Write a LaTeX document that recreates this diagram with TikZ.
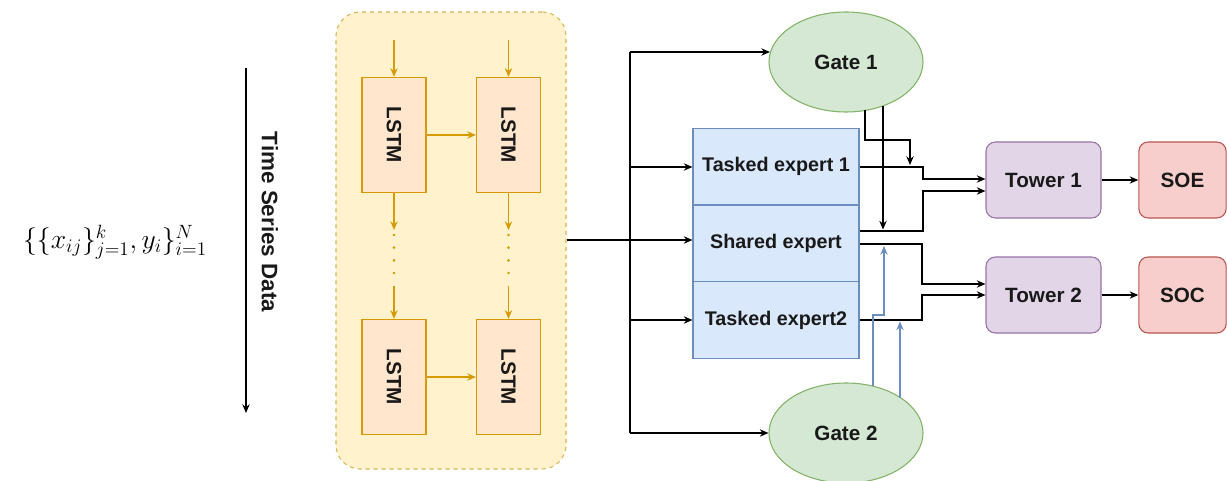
\documentclass[tikz,border=0pt]{standalone}
\usepackage{fontspec}
\setsansfont{Liberation Sans}
\usetikzlibrary{arrows.meta,shapes.geometric,calc}

\definecolor{encfill}{HTML}{FFF2CC}
\definecolor{encline}{HTML}{D6B656}
\definecolor{lstmfill}{HTML}{FFE6CC}
\definecolor{lstmline}{HTML}{D79B00}
\definecolor{expfill}{HTML}{DAE8FC}
\definecolor{expline}{HTML}{6C8EBF}
\definecolor{gatefill}{HTML}{D5E8D4}
\definecolor{gateline}{HTML}{82B366}
\definecolor{towfill}{HTML}{E1D5E7}
\definecolor{towline}{HTML}{9673A6}
\definecolor{outfill}{HTML}{F8CECC}
\definecolor{outline}{HTML}{B85450}

\begin{document}
\begin{tikzpicture}[x=0.75pt,y=-0.75pt,
  lbl/.style={font=\sffamily\bfseries\fontsize{15.5}{18}\selectfont, text=black!90},
  explbl/.style={font=\sffamily\bfseries\fontsize{14.8}{17}\selectfont, text=black!90},
  enclosure/.style={draw=encline, fill=encfill, dashed, line width=0.8pt,
    rounded corners=18pt, minimum width=172.5pt, minimum height=342.75pt, inner sep=0pt},
  lstmbox/.style={draw=lstmline, fill=lstmfill, line width=1pt,
    minimum width=48pt, minimum height=86.25pt, inner sep=0pt, lbl},
  expbox/.style={draw=expline, fill=expfill, line width=0.8pt,
    minimum width=124.5pt, minimum height=57.5pt, inner sep=0pt, explbl},
  gatenode/.style={ellipse, draw=gateline, fill=gatefill, line width=0.8pt,
    minimum width=115.5pt, minimum height=75pt, inner sep=0pt, lbl},
  towbox/.style={draw=towline, fill=towfill, rounded corners=7pt, line width=0.8pt,
    minimum width=86.25pt, minimum height=57pt, inner sep=0pt, lbl},
  outbox/.style={draw=outline, fill=outfill, rounded corners=7pt, line width=0.8pt,
    minimum width=65.5pt, minimum height=57pt, inner sep=0pt, lbl},
  arr/.style={-{Stealth[length=6.5pt,width=5.5pt]}, line width=0.9pt, black},
  plain/.style={line width=0.9pt, black},
  goldarr/.style={-{Stealth[length=6.5pt,width=5.5pt]}, line width=0.9pt, lstmline},
  bluearr/.style={-{Stealth[length=6.5pt,width=5.5pt]}, line width=0.9pt, expline},
  dots/.style={lstmline, line width=2.2pt, line cap=round, dash pattern=on 0pt off 9.5pt},
]
\useasboundingbox (0,0) rectangle (1227,481);

% input data and time axis
\node (data) at (115,242) {\fontsize{22}{26}\selectfont $\{\{x_{ij}\}_{j=1}^{k}, y_i\}_{i=1}^{N}$};
\coordinate (ttop) at (246,68);
\coordinate (tbot) at (246,413);
\draw[arr] (ttop) -- (tbot);
\node[lbl, rotate=-90, font=\sffamily\bfseries\fontsize{16.8}{19}\selectfont] (tlabel) at (270,222) {Time Series Data};

% LSTM encoder
\node[enclosure] (enc) at (451,240.5) {};
\node[lstmbox] (l1) at (394,135) {\rotatebox{-90}{LSTM}};
\node[lstmbox] (l2) at (508.5,135) {\rotatebox{-90}{LSTM}};
\node[lstmbox] (l3) at (394,377) {\rotatebox{-90}{LSTM}};
\node[lstmbox] (l4) at (508.5,377) {\rotatebox{-90}{LSTM}};

\coordinate (in1) at (394,40);
\coordinate (in2) at (508.5,40);
\draw[goldarr] (in1) -- (l1.north);
\draw[goldarr] (in2) -- (l2.north);
\draw[goldarr] (l1) -- (l2);
\draw[goldarr] (l3) -- (l4);

\coordinate (d1a) at (394,230);
\coordinate (d1b) at (394,286);
\coordinate (d2a) at (508.5,230);
\coordinate (d2b) at (508.5,286);
\draw[goldarr] (l1.south) -- (d1a);
\draw[goldarr] (l2.south) -- (d2a);
\draw[goldarr] (d1b) -- (l3.north);
\draw[goldarr] (d2b) -- (l4.north);
\draw[dots] (394,235) -- (394,275);
\draw[dots] (508.5,235) -- (508.5,275);

% experts and gates
\node[expbox] (e1) at (776,166.5) {Tasked expert 1};
\node[expbox] (e2) at (776,243.5) {Shared expert};
\node[expbox] (e3) at (776,320) {Tasked expert2};
\node[gatenode] (g1) at (846,62) {Gate 1};
\node[gatenode] (g2) at (846,433) {Gate 2};

% fan-out from the encoder
\coordinate (trtop) at (630,52);
\coordinate (trbot) at (630,433);
\draw[arr] (enc.east |- 0,240) -- (e2.west |- 0,240);
\draw[plain] (trtop) -- (trbot);
\draw[arr] (trtop) -- (trtop -| 770,0);
\draw[arr] (trbot) -- (g2.west);
\draw[arr] (trtop |- 0,167) -- (e1.west |- 0,167);
\draw[arr] (trtop |- e3.west) -- (e3.west);

% towers and outputs
\node[towbox] (t1) at (1043.5,180) {Tower 1};
\node[towbox] (t2) at (1043.5,295) {Tower 2};
\node[outbox] (soe) at (1182.5,180) {SOE};
\node[outbox] (soc) at (1182.5,295) {SOC};
\draw[arr] (t1) -- (soe);
\draw[arr] (t2) -- (soc);

% expert outputs routed to the towers
\draw[arr] (e1.east |- 0,167) -- (923,167) |- ($(t1.west)+(0,-1)$);
\draw[arr] ($(e2.east)+(0,-12.5)$) -- (923,231) |- ($(t1.west)+(0,11)$);
\draw[arr] ($(e2.east)+(0,0.5)$) -- (922,244) |- ($(t2.west)+(0,-11)$);
\draw[arr] (e3.east) -- (922,320) |- ($(t2.west)+(0,0)$);

% gate weights
\draw[arr] ($(g1.center)+(19,48.5)$) -- (865,140) -- (910,140) -- (910,165);
\draw[arr] ($(g1.center)+(37,44)$) -- (883,229.5);
\draw[bluearr] ($(g2.center)+(27,-47)$) -- (873,315) -- (884,315) -- (884,246);
\draw[bluearr] ($(g2.center)+(54,-35.5)$) -- (900,321.5);
\end{tikzpicture}
\end{document}
